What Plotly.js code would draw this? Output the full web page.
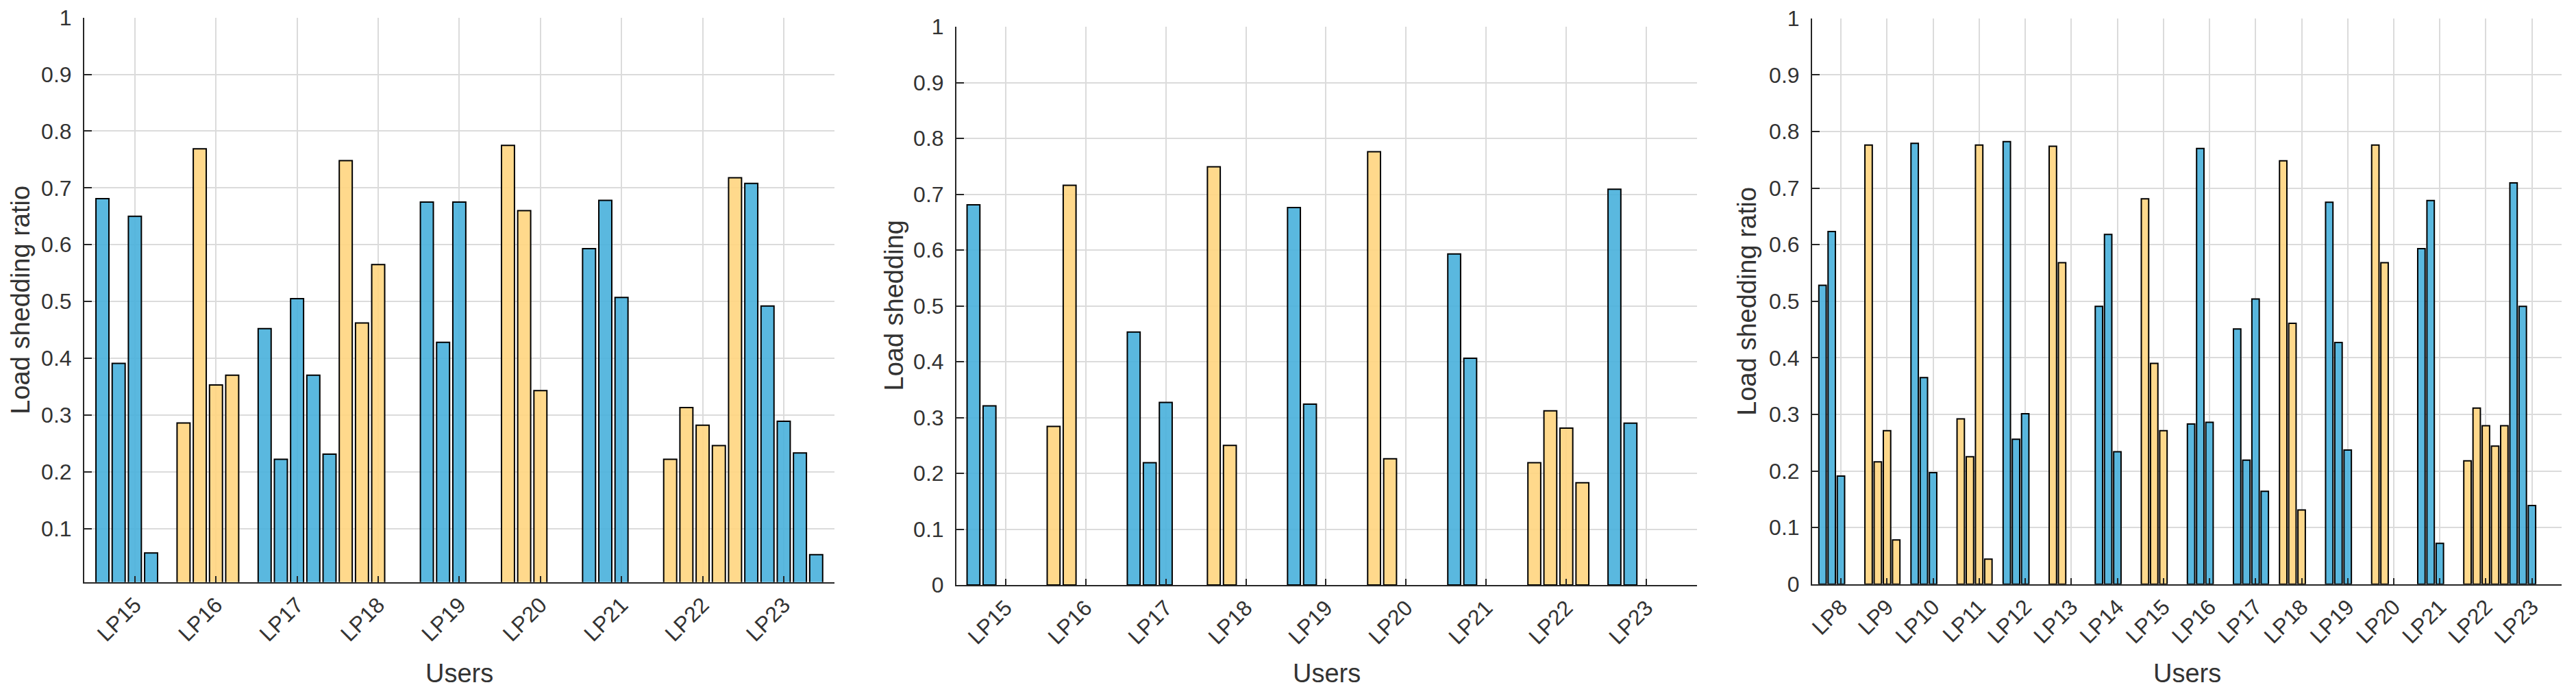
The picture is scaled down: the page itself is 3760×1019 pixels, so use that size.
<!DOCTYPE html>
<html><head><meta charset="utf-8">
<script src="https://cdn.plot.ly/plotly-3.0.1.min.js"></script>
<style>html,body{margin:0;padding:0;background:#fff}#chart{width:3760px;height:1019px}</style>
</head><body><div id="chart"></div>
<script>
// ---------- DATA ----------
// Panel 1 : "Load shedding ratio"
const users1 = ['LP15','LP16','LP17','LP18','LP19','LP20','LP21','LP22','LP23'];
const kind1  = ['B','Y','B','Y','B','Y','B','Y','B'];
const p1_bar1 = [0.681, 0.286, 0.452, 0.748, 0.675, 0.775, 0.593, 0.222, 0.708];
const p1_bar2 = [0.391, 0.769, 0.222, 0.462, 0.428, 0.660, 0.678, 0.313, 0.492];
const p1_bar3 = [0.650, 0.353, 0.505, 0.565, 0.675, 0.343, 0.507, 0.282, 0.289];
const p1_bar4 = [0.057, 0.370, 0.370, 0,     0,     0,     0,     0.246, 0.233];
const p1_bar5 = [0,     0,     0.231, 0,     0,     0,     0,     0.718, 0.054];

// Panel 2 : "Load shedding"
const users2 = ['LP15','LP16','LP17','LP18','LP19','LP20','LP21','LP22','LP23'];
const kind2  = ['B','Y','B','Y','B','Y','B','Y','B'];
const p2_bar1 = [0.681, 0.284, 0.453, 0.749, 0.676, 0.776, 0.593, 0.219, 0.709];
const p2_bar2 = [0.321, 0.716, 0.219, 0.250, 0.324, 0.226, 0.406, 0.312, 0.290];
const p2_bar3 = [0,     0,     0.327, 0,     0,     0,     0,     0.281, 0];
const p2_bar4 = [0,     0,     0,     0,     0,     0,     0,     0.183, 0];
const p2_bar5 = [0,     0,     0,     0,     0,     0,     0,     0,     0];

// Panel 3 : "Load shedding ratio"
const users3 = ['LP8','LP9','LP10','LP11','LP12','LP13','LP14','LP15','LP16','LP17','LP18','LP19','LP20','LP21','LP22','LP23'];
const kind3  = ['B','Y','B','Y','B','Y','B','Y','B','B','Y','B','Y','B','Y','B'];
const p3_bar1 = [0.528, 0.776, 0.779, 0.292, 0.782, 0.774, 0.491, 0.681, 0.283, 0.451, 0.748, 0.675, 0.776, 0.593, 0.218, 0.709];
const p3_bar2 = [0.623, 0.216, 0.365, 0.225, 0.256, 0.568, 0.618, 0.390, 0.770, 0.219, 0.461, 0.427, 0.568, 0.678, 0.311, 0.491];
const p3_bar3 = [0.191, 0.271, 0.197, 0.776, 0.301, 0,     0.234, 0.271, 0.286, 0.504, 0.131, 0.237, 0,     0.072, 0.280, 0.139];
const p3_bar4 = [0,     0.078, 0,     0.044, 0,     0,     0,     0,     0,     0.164, 0,     0,     0,     0,     0.244, 0];
const p3_bar5 = [0,     0,     0,     0,     0,     0,     0,     0,     0,     0,     0,     0,     0,     0,     0.280, 0];

const yTitles = ['Load shedding ratio', 'Load shedding', 'Load shedding ratio'];
const xTitle = 'Users';

// ---------- STYLE ----------
const COLORS = {B: 'rgba(72,176,220,0.9)', Y: 'rgba(255,213,127,0.9)'};
const FONT = '"Liberation Sans", Arial, Helvetica, sans-serif';
const TXT = '#333333';
const AX = '#262626';
const GRID = '#dbdbdb';
const W = 3760, H = 1019;

const panels = [
  {users: users1, kind: kind1, series: [p1_bar1,p1_bar2,p1_bar3,p1_bar4,p1_bar5],
   px: [123, 1218.3], py: [25.7, 849.7], xr: [-0.12, 46.14], yr: [0.0057, 1], titleX: 30},
  {users: users2, kind: kind2, series: [p2_bar1,p2_bar2,p2_bar3,p2_bar4,p2_bar5],
   px: [1396, 2476.7], py: [39, 854], xr: [-0.065, 46.14], yr: [0, 1], titleX: 1305},
  {users: users3, kind: kind3, series: [p3_bar1,p3_bar2,p3_bar3,p3_bar4,p3_bar5],
   px: [2645, 3739.3], py: [26.7, 852.7], xr: [-0.13, 81.24], yr: [0, 1], titleX: 2550}
];

const traces = [];
const layout = {
  width: W, height: H, margin: {l:0, r:0, t:0, b:0},
  paper_bgcolor: '#ffffff', plot_bgcolor: '#ffffff',
  showlegend: false, font: {family: FONT, color: TXT, size: 32},
  annotations: []
};

const nSlots = 5;
panels.forEach((p, i) => {
  const xs = [], ys = [], cs = [];
  p.users.forEach((u, g) => {
    p.series.forEach((s, k) => {
      xs.push(g * nSlots + k + 1);
      ys.push(s[g] > 0 ? s[g] : null);   // empty slots draw nothing
      cs.push(COLORS[p.kind[g]]);
    });
  });
  const suf = i === 0 ? '' : String(i + 1);
  traces.push({
    type: 'bar', x: xs, y: ys, xaxis: 'x' + suf, yaxis: 'y' + suf,
    width: 0.8, hoverinfo: 'skip',
    marker: {color: cs, line: {color: '#000000', width: 2}}
  });
  const tickv = p.users.map((u, g) => g * nSlots + 3);
  const yticks = [];
  for (let t = 0; t <= 10; t++) { const v = t / 10; if (v >= p.yr[0] - 1e-9) yticks.push(v); }
  layout['xaxis' + suf] = {
    domain: [p.px[0] / W, p.px[1] / W], anchor: 'y' + suf, range: p.xr,
    tickmode: 'array', tickvals: tickv, ticktext: p.users, tickangle: -45,
    ticks: 'inside', ticklen: 9, tickwidth: 2, tickcolor: AX,
    showline: true, linecolor: AX, linewidth: 2, mirror: false,
    showgrid: true, gridcolor: GRID, gridwidth: 2, zeroline: false,
    tickfont: {family: FONT, size: 32, color: TXT}, automargin: false, fixedrange: true
  };
  layout['yaxis' + suf] = {
    domain: [1 - p.py[1] / H, 1 - p.py[0] / H], anchor: 'x' + suf, range: p.yr,
    tickmode: 'array', tickvals: yticks, ticktext: yticks.map(v => String(+v.toFixed(1))),
    ticks: 'inside', ticklen: 11, tickwidth: 2, tickcolor: AX, ticklabelstandoff: 10,
    showline: true, linecolor: AX, linewidth: 2, mirror: false,
    showgrid: true, gridcolor: GRID, gridwidth: 2, zeroline: false,
    tickfont: {family: FONT, size: 32, color: TXT}, automargin: false, fixedrange: true
  };
  layout.annotations.push({
    xref: 'paper', yref: 'paper', x: p.titleX / W, y: 1 - ((p.py[0] + p.py[1]) / 2) / H,
    text: yTitles[i], textangle: -90, showarrow: false, xanchor: 'center', yanchor: 'middle',
    font: {family: FONT, size: 38, color: TXT}
  });
  layout.annotations.push({
    xref: 'paper', yref: 'paper', x: ((p.px[0] + p.px[1]) / 2) / W, y: 1 - 983 / H,
    text: xTitle, showarrow: false, xanchor: 'center', yanchor: 'middle',
    font: {family: FONT, size: 38, color: TXT}
  });
});

Plotly.newPlot('chart', traces, layout, {staticPlot: true, displayModeBar: false});
</script>
</body></html>
